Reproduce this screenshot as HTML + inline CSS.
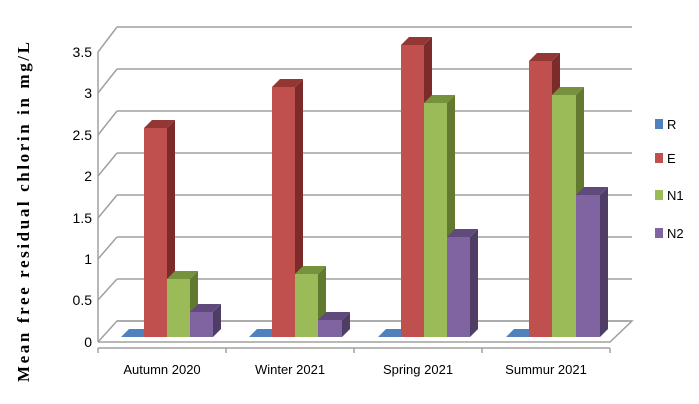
<!DOCTYPE html><html><head><style>body{margin:0;background:#fff}svg{display:block}</style></head><body>
<svg width="699" height="404" xmlns="http://www.w3.org/2000/svg" font-family="Liberation Sans, sans-serif">
<g stroke="#a0a0a0" stroke-width="1.5" fill="none">
<line x1="117" y1="27" x2="632" y2="27"/><line x1="117" y1="69" x2="632" y2="69"/><line x1="117" y1="111" x2="632" y2="111"/><line x1="117" y1="153" x2="632" y2="153"/><line x1="117" y1="195" x2="632" y2="195"/><line x1="117" y1="237" x2="632" y2="237"/><line x1="117" y1="279" x2="632" y2="279"/><line x1="117" y1="321" x2="632" y2="321"/>
<polyline points="98,52 117,27"/><polyline points="98,93 117,69"/><polyline points="98,135 117,111"/><polyline points="98,176 117,153"/><polyline points="98,218 117,195"/><polyline points="98,259 117,237"/><polyline points="98,300 117,279"/><polyline points="98,342 117,321 632,321 610,342 98,342"/>
<line x1="98" y1="52" x2="98" y2="342"/>
<line x1="98" y1="348" x2="610" y2="348"/>
<line x1="98" y1="348" x2="98" y2="353"/><line x1="226" y1="348" x2="226" y2="353"/><line x1="354" y1="348" x2="354" y2="353"/><line x1="482" y1="348" x2="482" y2="353"/><line x1="610" y1="348" x2="610" y2="353"/>
</g>
<g font-size="14" fill="#000" text-anchor="end">
<text x="92" y="57">3.5</text><text x="92" y="98">3</text><text x="92" y="140">2.5</text><text x="92" y="181">2</text><text x="92" y="223">1.5</text><text x="92" y="264">1</text><text x="92" y="305">0.5</text><text x="92" y="347">0</text>
</g>
<g font-size="13" fill="#000" text-anchor="middle">
<text x="162" y="374">Autumn 2020</text><text x="290" y="374">Winter 2021</text><text x="418" y="374">Spring 2021</text><text x="546" y="374">Summur 2021</text>
</g>
<g fill="#4f81bd">
<polygon points="121,337 144,337 152,329 129,329"/><polygon points="249,337 272,337 280,329 257,329"/><polygon points="378,337 401,337 409,329 386,329"/><polygon points="506,337 529,337 537,329 514,329"/>
</g>
<!-- E bars -->
<g>
<rect x="144" y="128" width="23" height="209" fill="#c0504d"/><polygon points="144,128 152,120 175,120 167,128" fill="#943634"/><polygon points="167,128 175,120 175,329 167,337" fill="#7b2c2a"/>
<rect x="272" y="87" width="23" height="250" fill="#c0504d"/><polygon points="272,87 280,79 303,79 295,87" fill="#943634"/><polygon points="295,87 303,79 303,329 295,337" fill="#7b2c2a"/>
<rect x="401" y="45" width="23" height="292" fill="#c0504d"/><polygon points="401,45 409,37 432,37 424,45" fill="#943634"/><polygon points="424,45 432,37 432,329 424,337" fill="#7b2c2a"/>
<rect x="529" y="61" width="23" height="276" fill="#c0504d"/><polygon points="529,61 537,53 560,53 552,61" fill="#943634"/><polygon points="552,61 560,53 560,329 552,337" fill="#7b2c2a"/>
</g>
<!-- N1 bars -->
<g>
<rect x="167" y="279" width="23" height="58" fill="#9bbb59"/><polygon points="167,279 175,271 198,271 190,279" fill="#76923c"/><polygon points="190,279 198,271 198,329 190,337" fill="#62792f"/>
<rect x="295" y="274" width="23" height="63" fill="#9bbb59"/><polygon points="295,274 303,266 326,266 318,274" fill="#76923c"/><polygon points="318,274 326,266 326,329 318,337" fill="#62792f"/>
<rect x="424" y="103" width="23" height="234" fill="#9bbb59"/><polygon points="424,103 432,95 455,95 447,103" fill="#76923c"/><polygon points="447,103 455,95 455,329 447,337" fill="#62792f"/>
<rect x="552" y="95" width="24" height="242" fill="#9bbb59"/><polygon points="552,95 560,87 584,87 576,95" fill="#76923c"/><polygon points="576,95 584,87 584,329 576,337" fill="#62792f"/>
</g>
<!-- N2 bars -->
<g>
<rect x="190" y="312" width="23" height="25" fill="#8064a2"/><polygon points="190,312 198,304 221,304 213,312" fill="#604a7b"/><polygon points="213,312 221,304 221,329 213,337" fill="#4f3d66"/>
<rect x="318" y="320" width="24" height="17" fill="#8064a2"/><polygon points="318,320 326,312 350,312 342,320" fill="#604a7b"/><polygon points="342,320 350,312 350,329 342,337" fill="#4f3d66"/>
<rect x="447" y="237" width="23" height="100" fill="#8064a2"/><polygon points="447,237 455,229 478,229 470,237" fill="#604a7b"/><polygon points="470,237 478,229 478,329 470,337" fill="#4f3d66"/>
<rect x="576" y="195" width="24" height="142" fill="#8064a2"/><polygon points="576,195 584,187 608,187 600,195" fill="#604a7b"/><polygon points="600,195 608,187 608,329 600,337" fill="#4f3d66"/>
</g>
<g font-size="13">
<rect x="655" y="119" width="8" height="10" fill="#4f81bd"/><text x="667" y="129">R</text>
<rect x="655" y="153" width="8" height="10" fill="#c0504d"/><text x="667" y="163">E</text>
<rect x="655" y="190" width="8" height="10" fill="#9bbb59"/><text x="667" y="200">N1</text>
<rect x="655" y="228" width="8" height="10" fill="#8064a2"/><text x="667" y="238">N2</text>
</g>
<text transform="translate(29,212) rotate(-90)" text-anchor="middle" font-family="Liberation Serif, serif" font-weight="bold" font-size="17" textLength="340" lengthAdjust="spacing">Mean free residual chlorin  in  mg/L</text>
</svg></body></html>
